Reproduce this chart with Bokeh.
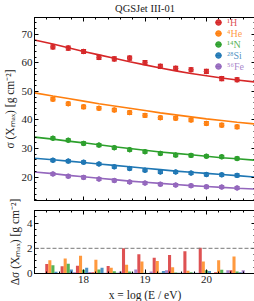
import numpy as np
from bokeh.plotting import figure
from bokeh.models import (ColumnDataSource, Whisker, TeeHead, LinearAxis, SingleIntervalTicker,
                          Span, Legend, LegendItem, Range1d, CustomLabelingPolicy)
from bokeh.layouts import column
from bokeh.embed import file_html
from bokeh.resources import INLINE

# ---------------- data ----------------
energy = [17.5, 17.75, 18.0, 18.25, 18.5, 18.75, 19.0, 19.25, 19.5, 19.75, 20.0, 20.25, 20.5]
curve_x = [17.2, 17.5, 17.75, 18.0, 18.25, 18.5, 18.75, 19.0, 19.25, 19.5, 19.75, 20.0, 20.25, 20.5, 20.8]

species = ["\u00b9H", "\u2074He", "\u00b9\u2074N", "\u00b2\u2078Si", "\u2075\u2076Fe"]
colors = ["#d62728", "#ff7f0e", "#2ca02c", "#1f77b4", "#9467bd"]

sigma_H = [65.6, 65.2, 64.0, 61.9, 61.4, 61.7, 60.1, 58.8, 58.1, 57.6, 57.0, 54.5, 54.1]
sigma_He = [47.3, 45.7, 44.6, 44.1, 43.5, 42.6, 41.6, 40.8, 40.6, 40.0, 38.8, 38.2, 37.6]
sigma_N = [33.6, 32.9, 31.8, 31.2, 30.3, 29.6, 28.9, 28.3, 27.7, 27.6, 27.3, 27.1, 26.5]
sigma_Si = [25.9, 25.6, 25.2, 24.6, 23.6, 23.0, 22.4, 21.8, 21.8, 21.4, 20.9, 20.8, 20.6]
sigma_Fe = [21.1, 20.3, 19.9, 19.3, 18.8, 18.3, 17.9, 17.5, 17.2, 17.0, 16.6, 16.5, 16.2]

err_H = [0.7, 0.7, 0.7, 0.7, 0.7, 0.7, 0.7, 0.7, 0.7, 0.7, 0.7, 0.7, 0.7]
err_He = [0.6, 0.6, 0.6, 0.6, 0.6, 0.6, 0.6, 0.6, 0.6, 0.6, 0.6, 0.6, 0.6]
err_N = [0.5, 0.5, 0.5, 0.5, 0.5, 0.5, 0.5, 0.5, 0.5, 0.5, 0.5, 0.5, 0.5]
err_Si = [0.5, 0.5, 0.5, 0.5, 0.5, 0.5, 0.5, 0.5, 0.5, 0.5, 0.5, 0.5, 0.5]
err_Fe = [0.5, 0.5, 0.5, 0.5, 0.5, 0.5, 0.5, 0.5, 0.5, 0.5, 0.5, 0.5, 0.5]

fit_H = [68.0, 66.6, 65.3, 64.0, 62.8, 61.6, 60.4, 59.3, 58.2, 57.2, 56.3, 55.5, 54.7, 54.0, 53.3]
fit_He = [49.5, 48.4, 47.5, 46.6, 45.7, 44.9, 44.1, 43.3, 42.5, 41.8, 41.1, 40.4, 39.8, 39.2, 38.6]
fit_N = [34.0, 33.3, 32.6, 32.0, 31.3, 30.6, 30.0, 29.4, 28.8, 28.3, 27.8, 27.3, 26.8, 26.4, 25.9]
fit_Si = [26.6, 26.1, 25.6, 25.1, 24.6, 24.1, 23.6, 23.1, 22.6, 22.1, 21.7, 21.3, 20.9, 20.5, 20.0]
fit_Fe = [21.8, 21.2, 20.6, 20.1, 19.6, 19.1, 18.6, 18.2, 17.8, 17.4, 17.0, 16.7, 16.4, 16.1, 15.8]

dsig_H = [0.75, 0.58, 0.62, 0.10, 0.60, 2.00, 1.52, 1.25, 1.46, 1.77, 2.05, 0.10, 0.25]
dsig_He = [1.05, 1.20, 1.40, 1.10, 0.45, 0.70, 0.96, 1.00, 0.50, 0.22, 0.95, 1.05, 1.35]
dsig_N = [0.66, 0.78, 0.30, 0.32, 0.18, 0.15, 0.06, 0.05, 0.08, 0.10, 0.25, 0.30, 0.15]
dsig_Si = [0.13, 0.32, 0.46, 0.45, 0.05, 0.05, 0.04, 0.20, 0.05, 0.05, 0.20, 0.05, 0.10]
dsig_Fe = [0.03, 0.10, 0.12, 0.05, 0.15, 0.32, 0.15, 0.25, 0.05, 0.05, 0.03, 0.25, 0.25]

sigmas = [sigma_H, sigma_He, sigma_N, sigma_Si, sigma_Fe]
errs = [err_H, err_He, err_N, err_Si, err_Fe]
fits = [fit_H, fit_He, fit_N, fit_Si, fit_Fe]
dsigs = [dsig_H, dsig_He, dsig_N, dsig_Si, dsig_Fe]

title_text = "QGSJet III-01"
x_label = "x = log (E / eV)"
y_label_top = "\u03c3 (X\u2098\u2090\u2093) [g cm\u207b\u00b2]"
y_label_bot = "\u0394\u03c3 (X\u2098\u2090\u2093) [g cm\u207b\u00b2]"

X_RANGE = (17.2, 20.8)
Y_RANGE_TOP = (11.8, 75.9)
Y_RANGE_BOT = (0.0, 5.0)
THRESHOLD = 2.0

FONT = "Liberation Serif"
TEXT = "#222222"

# ---------------- styling helpers ----------------
def style_axis(ax, labels=True):
    ax.major_tick_in = 4
    ax.major_tick_out = 0
    ax.minor_tick_in = 2
    ax.minor_tick_out = 0
    ax.axis_line_color = "black"
    ax.major_tick_line_color = "black"
    ax.minor_tick_line_color = "black"
    ax.major_label_text_font = FONT
    ax.major_label_text_color = TEXT
    ax.axis_label_text_font = FONT
    ax.axis_label_text_font_style = "normal"
    ax.axis_label_text_color = TEXT
    ax.axis_label_text_font_size = "11.5px"
    if labels:
        ax.major_label_text_font_size = "11px"
        ax.major_label_standoff = 2
        ax.axis_label_standoff = 3
    else:
        ax.major_label_text_font_size = "1px"
        ax.major_label_policy = CustomLabelingPolicy(code="return new Set()")
        ax.major_label_standoff = 0
        ax.axis_label_standoff = 0


def add_mirror_axes(p, xticker, yticker):
    top = LinearAxis(ticker=xticker)
    style_axis(top, labels=False)
    p.add_layout(top, "above")
    right = LinearAxis(ticker=yticker)
    style_axis(right, labels=False)
    p.add_layout(right, "right")


x_range = Range1d(*X_RANGE)

# ---------------- top panel ----------------
p1 = figure(frame_width=221, frame_height=183, x_range=x_range, y_range=Range1d(*Y_RANGE_TOP),
            output_backend="svg", toolbar_location=None, title=title_text,
            min_border_left=30, min_border_right=3, min_border_top=16, min_border_bottom=5)
p1.grid.visible = False
p1.outline_line_color = "black"
p1.background_fill_color = "white"
p1.title.align = "center"
p1.title.standoff = 0
p1.title.text_font = FONT
p1.title.text_font_style = "normal"
p1.title.text_font_size = "10.5px"
p1.title.text_color = TEXT

xt1 = SingleIntervalTicker(interval=1, num_minor_ticks=5)
yt1 = SingleIntervalTicker(interval=10, num_minor_ticks=5)
p1.xaxis.ticker = xt1
p1.yaxis.ticker = yt1
style_axis(p1.xaxis[0], labels=False)
style_axis(p1.yaxis[0], labels=True)
p1.yaxis.axis_label = y_label_top
add_mirror_axes(p1, xt1, yt1)

legend_y0 = 171
for k, (name, col, sig, er, fit) in enumerate(zip(species, colors, sigmas, errs, fits)):
    p1.line(curve_x, fit, line_color=col, line_width=1.6)
    src = ColumnDataSource(dict(x=energy, y=sig,
                                upper=np.array(sig) + np.array(er),
                                lower=np.array(sig) - np.array(er)))
    w = Whisker(source=src, base="x", upper="upper", lower="lower",
                line_color=col, line_width=1.2,
                upper_head=TeeHead(size=5, line_color=col, line_width=1.2),
                lower_head=TeeHead(size=5, line_color=col, line_width=1.2))
    p1.add_layout(w)
    r_bar = p1.scatter("x", "y", source=src, marker="dash", angle=np.pi / 2, size=5,
                       line_color=col, line_width=1.2)
    r_dot = p1.scatter("x", "y", source=src, marker="circle", size=4.5, fill_color=col,
                       line_color=col, fill_alpha=0.9)
    leg = Legend(items=[LegendItem(label=name, renderers=[r_bar, r_dot])],
                 location=(177, legend_y0 - 11 * k),
                 label_text_color=col, label_text_alpha=0.8,
                 label_text_font=FONT, label_text_font_size="10px",
                 glyph_width=14, glyph_height=14, label_height=14, label_standoff=2,
                 padding=0, margin=0, spacing=0,
                 border_line_alpha=0, background_fill_alpha=0)
    p1.add_layout(leg)

# ---------------- bottom panel ----------------
p2 = figure(frame_width=221, frame_height=63, x_range=x_range, y_range=Range1d(*Y_RANGE_BOT),
            output_backend="svg", toolbar_location=None,
            min_border_left=30, min_border_right=3, min_border_top=39, min_border_bottom=29,
            margin=(-34, 0, 0, 0))
p2.grid.visible = False
p2.outline_line_color = "black"
p2.border_fill_alpha = 0
p2.background_fill_color = "white"

xt2 = SingleIntervalTicker(interval=1, num_minor_ticks=5)
yt2 = SingleIntervalTicker(interval=2, num_minor_ticks=4)
p2.xaxis.ticker = xt2
p2.yaxis.ticker = yt2
style_axis(p2.xaxis[0], labels=True)
style_axis(p2.yaxis[0], labels=True)
p2.xaxis.axis_label = x_label
p2.yaxis.axis_label = y_label_bot
add_mirror_axes(p2, xt2, yt2)

offsets = [-0.1, -0.05, 0.0, 0.05, 0.1]
bar_width = 0.05
for col, ds, off in zip(colors, dsigs, offsets):
    p2.vbar(x=np.array(energy) + off, top=ds, bottom=0, width=bar_width,
            fill_color=col, fill_alpha=0.8, line_color=None)

p2.add_layout(Span(location=THRESHOLD, dimension="width", line_color="#777777",
                   line_dash="4 2", line_width=1))

layout = column(p1, p2)

with open("out.html", "w") as f:
    f.write(file_html(layout, INLINE))
